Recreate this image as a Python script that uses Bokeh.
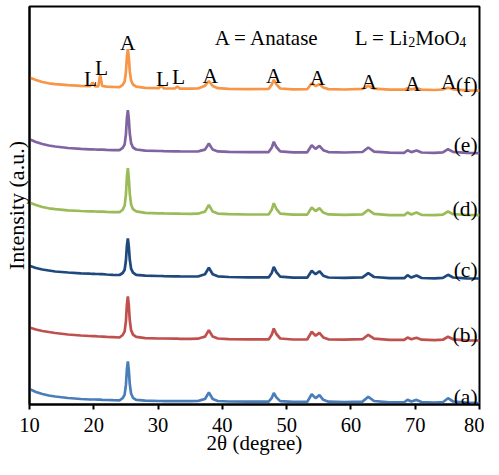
from bokeh.plotting import figure
from bokeh.models import Range1d, FixedTicker
from bokeh.core.properties import value
from bokeh.embed import file_html
from bokeh.resources import INLINE

# ---- data (2-theta in degrees, intensity in arbitrary units) ----
two_theta = [
    10, 11, 12, 13, 14, 16, 18, 19.4, 19.8, 20.2, 20.7, 21.0, 21.3, 22, 23, 24.0,
    24.5, 24.8, 25.0, 25.15, 25.3, 25.45, 25.6, 25.8, 26.1, 26.6,
    28, 30.1, 30.5, 30.9, 32.6, 33.0, 33.4, 35, 36.2,
    36.8, 37.3, 37.9, 38.5, 39.3,
    41, 44,
    47.2, 47.7, 48.0, 48.4, 49.0,
    51, 53.2,
    53.9, 54.5, 55.1, 55.7, 56.5,
    59, 61.8, 62.7, 63.6, 66,
    68.3, 68.8, 69.4, 70.2, 71.0,
    73, 74.3, 75.1, 75.9, 78, 80,
]

int_a = [
    15.5, 12.5, 10.5, 9, 8, 6.5, 5.5, 5, 5, 5, 4.8, 4.8, 4.7, 4.5, 4.3, 4.2,
    6.3, 9.9, 19.6, 35.2, 43, 34.4, 20.4, 11, 6.7, 4.6,
    3.8, 3.5, 3.5, 3.4, 3.3, 3.3, 3.3, 3.3, 3.5,
    4.6, 5.5, 12, 5.5, 3.5,
    3.0, 2.8,
    2.8, 6.7, 11.5, 7.1, 3.4,
    2.6, 2.6,
    10.3, 6.4, 9.3, 4.7, 2.8,
    2.4, 2.9, 7.7, 3.5, 2.2,
    2.2, 4.8, 3.0, 4.6, 2.5,
    2.0, 2.3, 6.3, 3.0, 1.8, 1.5,
]

int_b = [
    77, 75, 73.5, 72.5, 71.5, 70, 69, 68.5, 68.4, 68.3, 68, 68, 67.9, 67.6, 67.3, 67,
    69.5, 73.2, 83.4, 99.8, 108, 99, 84.2, 74.4, 69.9, 67.6,
    66.3, 66, 66, 66, 65.8, 65.8, 65.7, 65.7, 65.8,
    67, 67.9, 74.3, 67.9, 66,
    65.3, 65.2,
    65.1, 70, 76, 70.5, 66,
    65, 65,
    72.7, 68.8, 71.7, 67.1, 65.2,
    64.8, 65.3, 69.7, 65.8, 64.6,
    64.6, 67, 65.3, 66.7, 64.8,
    64.4, 64.8, 67.7, 65.2, 64.2, 64,
]

int_c = [
    138.7, 136.5, 135, 134, 133, 132, 131.2, 130.8, 130.7, 130.6, 130.5, 130.4, 130.3, 130, 129.7, 129.5,
    131.5, 134.8, 144, 158.7, 166, 157.9, 144.7, 135.9, 131.9, 129.6,
    128.8, 128.5, 128.5, 128.4, 128.2, 128.2, 128.1, 128, 128,
    129.3, 130.2, 136.7, 130.2, 128.2,
    127.5, 127.2,
    127.1, 131.8, 137.7, 132.3, 127.9,
    126.8, 126.8,
    133.7, 130.2, 133.3, 128.8, 127,
    126.6, 127.1, 131.3, 127.5, 126.4,
    126.3, 129.3, 126.9, 129, 126.5,
    126.2, 126.6, 129.7, 127, 126.2, 126,
]

int_d = [
    202, 199.5, 197.5, 196.2, 195.3, 194.2, 193.5, 193.2, 193.1, 193, 192.9, 192.8, 192.8, 192.6, 192.4, 192.3,
    194.8, 198.8, 209.8, 227.5, 236.3, 226.6, 210.7, 200.1, 195.3, 193.1,
    191.6, 191.2, 191.2, 191.1, 190.9, 190.9, 190.8, 190.7, 190.8,
    192, 192.9, 199.7, 192.9, 190.9,
    190.3, 190,
    190.1, 195.1, 201.3, 195.7, 190.9,
    189.9, 189.9,
    197, 193.4, 196.3, 191.9, 190.1,
    189.6, 190.1, 194.7, 190.6, 189.4,
    189.3, 192, 190, 192, 189.6,
    189.3, 189.8, 193, 190.3, 189.5, 189.3,
]

int_e = [
    265.3, 262.5, 260.5, 259, 258, 256.5, 255.6, 255.2, 255.1, 255, 254.9, 254.8, 254.8, 254.6, 254.4, 254.3,
    256.6, 260.2, 270.2, 286.3, 294.3, 285.5, 271, 261.4, 257, 255,
    253.8, 253.5, 253.5, 253.4, 253.2, 253.2, 253.1, 253, 253,
    254.1, 254.9, 261, 254.9, 253.1,
    252.6, 252.4,
    252.4, 257, 262.7, 257.5, 253.1,
    252.2, 252.2,
    259.3, 255.6, 258.7, 254.3, 252.4,
    252, 252.5, 257, 252.9, 251.8,
    251.7, 254.2, 252.4, 254, 252,
    251.6, 252.1, 255.3, 252.6, 251.6, 251.3,
]

int_f = [
    327, 324.5, 322.5, 321.2, 320.3, 319.3, 318.6, 318.3, 322, 318.2, 318.2, 329.7, 318.5, 317.9, 317.6, 317.4,
    319.6, 323, 332.5, 347.7, 355.3, 346.9, 333.3, 324.1, 320, 317.9,
    316.7, 316.3, 318.7, 316.2, 316, 318, 315.9, 315.8, 316,
    317.5, 318.8, 323.5, 318.5, 316.3,
    315.6, 315.4,
    315.5, 320, 324.7, 320.2, 316,
    315.2, 315.3,
    321.3, 318.5, 320.3, 317, 315.4,
    315, 315.6, 318.7, 315.8, 314.8,
    314.8, 316.2, 315.2, 316.2, 314.9,
    314.5, 315, 316.8, 315.2, 314.2, 313.8,
]

series = [int_a, int_b, int_c, int_d, int_e, int_f]
series_names = ["(a)", "(b)", "(c)", "(d)", "(e)", "(f)"]
series_colors = ["#4A7EBB", "#C0504D", "#1F497D", "#9BBB59", "#8064A2", "#F79646"]

x_ticks = [10, 20, 30, 40, 50, 60, 70, 80]

# phase labels over the peaks of (f)
peak_text = ["A", "L", "L", "L", "L", "A", "A", "A", "A", "A", "A"]
peak_x = [25.3, 19.5, 21.2, 30.7, 33.2, 38.1, 48.0, 54.8, 62.8, 69.6, 75.2]
peak_y = [361.3, 326, 336.3, 326, 327.7, 328.7, 328.7, 327, 322.7, 320.3, 322.7]

# sample labels at the right end
name_y = [7.6, 69.2, 134.2, 196, 259.2, 319.2]

FONT = "Liberation Serif"

p = figure(width=484, height=459, output_backend="svg", toolbar_location=None,
           x_range=Range1d(10, 80), y_range=Range1d(0, 398),
           min_border_left=26, min_border_right=5, min_border_top=6, min_border_bottom=55)
p.background_fill_color = "white"
p.border_fill_color = "white"
p.grid.visible = False
p.outline_line_color = "black"
p.outline_line_width = 2
p.outline_line_alpha = 1.0

for ys, col in zip(series, series_colors):
    p.line(two_theta, ys, line_color=col, line_width=2.7)

# x axis
xa = p.xaxis[0]
xa.ticker = FixedTicker(ticks=x_ticks)
xa.axis_line_width = 2
xa.major_tick_in = 0
xa.major_tick_out = 5
xa.major_tick_line_width = 2
xa.minor_tick_line_color = None
xa.major_label_text_font = FONT
xa.major_label_text_font_size = "20.5px"
xa.major_label_text_color = "black"
xa.major_label_standoff = 8
xa.axis_label = "2θ (degree)"
xa.axis_label_text_font = FONT
xa.axis_label_text_font_size = "21px"
xa.axis_label_text_font_style = "normal"
xa.axis_label_text_color = "black"
xa.axis_label_standoff = -4

# y axis
ya = p.yaxis[0]
ya.ticker = FixedTicker(ticks=[])
ya.axis_line_width = 2
ya.major_tick_in = 0
ya.major_tick_out = 0
ya.minor_tick_line_color = None
ya.major_label_standoff = 0
ya.axis_label = "Intensity (a.u.)"
ya.axis_label_text_font = FONT
ya.axis_label_text_font_size = "22px"
ya.axis_label_text_font_style = "normal"
ya.axis_label_text_color = "black"
ya.axis_label_standoff = 1

# peak labels
p.text(peak_x, peak_y, text=peak_text, text_font=value(FONT), text_font_size="21.5px",
       text_align="center", text_baseline="alphabetic", text_color="black")

# sample labels
p.text([79.7] * len(series_names), name_y, text=series_names, text_font=value(FONT),
       text_font_size="21.5px", text_align="right", text_baseline="alphabetic", text_color="black")

# legend text
p.text([38.83], [367], text=["A = Anatase"], text_font=value(FONT), text_font_size="21px",
       text_align="left", text_baseline="alphabetic", text_color="black")
p.text([60.6, 68.9, 70.0, 76.85], [367, 363, 367, 363], text=["L = Li", "2", "MoO", "4"],
       text_font=value(FONT), text_font_size=["21px", "14px", "21px", "14px"],
       text_align="left", text_baseline="alphabetic", text_color="black")

open("out.html", "w").write(file_html(p, INLINE))
